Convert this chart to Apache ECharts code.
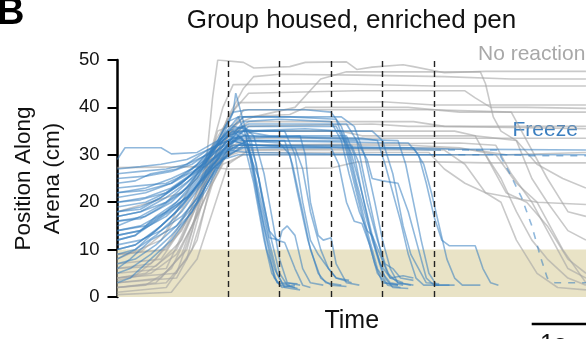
<!DOCTYPE html>
<html>
<head>
<meta charset="utf-8">
<script src="https://cdn.jsdelivr.net/npm/echarts@6/dist/echarts.min.js"></script>
<style>html,body{margin:0;padding:0;background:#fff}#c{width:586px;height:339px}</style>
</head>
<body>
<div id="c"></div>
<script>
// ---- data ----
const title = 'Group housed, enriched pen';
const yTicks = [0, 10, 20, 30, 40, 50];
const stimTimes = [0, 1, 2, 3, 4];
const escapeZone = [0, 10];
const timeRange = [-2.146, 6.951];

// grey: no reaction
const greyTraces = [
 [[-2.15,2],[-1.2,3],[-0.8,8],[-0.5,20],[-0.3,42],[-0.2,50],[0.3,49.5],[0.5,48.3],[1.2,48.6],[1.5,49.5],[2.3,49.6],[2.5,48],[2.8,48.5],[3.4,49],[3.6,48.6],[4.2,47.3],[5.0,47.6],[6.95,47.6]],
 [[-2.15,3],[-1.3,4],[-0.9,9],[-0.6,18],[-0.3,30],[0,38],[0.3,44],[0.5,46.5],[1,47],[2.5,46.8],[4.2,46.5],[5.5,46],[6.95,46]],
 [[-2.15,5],[-1.2,6],[-0.6,20],[-0.2,35],[0.5,38],[1.3,40],[1.8,46],[2.3,47.5],[4.0,47.5],[4.9,47.5],[5.0,45],[5.15,38],[5.3,35],[5.6,33],[5.9,25],[6.2,20],[6.6,14],[6.95,12]],
 [[-2.15,4],[-1.0,5],[-0.7,14],[-0.4,28],[-0.1,40],[0.1,44.8],[2.0,45],[4.0,44.5],[5.0,44.5],[6.95,44.5]],
 [[-2.15,2],[-1.4,3],[-0.8,10],[-0.4,25],[0,38],[0.4,43],[2.5,43.5],[4.6,43.5],[4.8,42],[5.1,40],[5.8,40],[6.95,39.8]],
 [[-2.15,7],[-1.3,8],[-0.8,16],[-0.3,32],[0.2,41],[3,41.2],[4,40.5],[6.95,40.5]],
 [[-2.15,3],[-1.0,4],[-0.6,12],[-0.2,30],[0.3,39.5],[4,39.5],[5.5,39],[5.8,33],[6.2,25],[6.6,18],[6.95,17]],
 [[-2.15,6],[-1.5,7],[-0.9,14],[-0.4,26],[0,34],[0.4,37],[3.6,37],[4.2,36],[6.95,35.5]],
 [[-2.15,1],[-1.2,2],[-0.7,10],[-0.3,24],[0.1,33],[0.5,35],[4.4,35],[4.8,34],[5.1,28],[5.4,22],[5.8,20],[6.2,15],[6.6,8],[6.95,5]],
 [[-2.15,4],[-1.6,5],[-1.0,10],[-0.5,22],[-0.1,31],[0.4,33.5],[6.95,33.5]],
 [[-2.15,9],[-1.2,10],[-0.7,18],[-0.3,27],[0,31],[0.5,32],[3.5,32],[4.5,31.5],[5.2,30],[5.6,24],[6.0,20],[6.5,10],[6.95,3]],
 [[-2.15,8],[-1.3,12],[-0.8,20],[-0.3,28],[0.2,31],[4.2,31],[4.6,28],[5.0,22],[5.3,20],[5.6,12],[6.0,5],[6.4,2],[6.95,1.5]],
 [[-2.15,27.3],[-0.5,27.5],[0,27],[2.0,27.2],[2.5,28.5],[4,28.5],[5,28.3],[6.95,28.3]],
 [[-2.15,6],[-1.4,6.5],[-0.9,12],[-0.5,22],[-0.2,29],[0.2,30.5],[3.9,30.5],[4.2,27],[4.6,24],[5.0,22],[5.5,21],[6.0,20],[6.95,19.5]],
 [[-2.15,2],[-1.6,2.5],[-1.1,6],[-0.7,15],[-0.4,22],[-0.1,28],[0.3,30],[5.0,30],[5.3,25],[5.6,18],[5.9,12],[6.2,8],[6.6,4],[6.95,2.5]],
 [[-2.15,18],[-1.5,20],[-0.9,22],[-0.5,26],[-0.2,32],[0.3,36],[2.8,36.5],[3.5,36],[5,36],[6.95,36]],
 [[-2.15,4],[-1.8,4.5],[-1.4,8],[-1.0,14],[-0.5,24],[-0.1,33],[0.3,38],[1.2,38.5],[1.5,40],[3.5,40],[4.5,39],[6.95,39]],
 [[-2.15,3.5],[-1.5,5],[-1.0,9],[-0.6,17],[-0.2,27],[0.1,32],[4.5,32.5],[5.2,32],[5.5,26],[5.9,20],[6.3,12],[6.6,6],[6.95,4]],
 [[-2.15,9],[-1.7,9.5],[-1.2,14],[-0.8,22],[-0.4,30],[0,35],[2.2,35],[2.6,34],[4.8,34],[5.6,33],[6.0,28],[6.5,25],[6.95,23]],
 [[-2.15,0.5],[-1.1,1],[-0.6,8],[-0.3,18],[0,28],[0.4,31],[4.0,31.5],[4.8,31],[5.4,30],[6.95,30.5]]
];

// blue: escape
const escapeTraces = [
 [[-2.15,29],[-2.0,31.5],[-1.3,31.5],[-1.1,30.2],[-0.6,30.5],[-0.2,33],[0.1,35],[0.3,33],[0.5,24],[0.7,12],[0.85,5],[1.0,2.5],[1.3,2]],
 [[-2.15,18],[-1.7,19],[-1.3,21],[-0.9,24],[-0.5,28],[-0.2,33],[0.0,37],[0.2,38],[0.35,34],[0.55,22],[0.75,10],[0.95,3],[1.2,2.5]],
 [[-2.15,12],[-1.8,13],[-1.4,17],[-1.0,20],[-0.6,25],[-0.3,31],[0.0,35],[0.3,36],[0.45,33],[0.65,22],[0.8,14],[0.95,12],[1.1,11.5],[1.3,6],[1.45,2.5],[1.6,2]],
 [[-2.15,22],[-1.6,23],[-1.1,25],[-0.7,27],[-0.3,30],[0.0,33],[0.25,34],[0.45,30],[0.6,20],[0.75,12],[0.9,4],[1.05,2],[1.3,2.5]],
 [[-2.15,8],[-1.8,10],[-1.4,14],[-1.1,17],[-0.7,22],[-0.4,27],[-0.1,33],[0.15,35],[0.35,34],[0.5,26],[0.7,15],[0.9,6],[1.05,3],[1.35,2.8]],
 [[-2.15,15],[-1.7,17],[-1.2,20],[-0.8,23],[-0.4,29],[-0.1,34],[0.1,39],[0.15,43],[0.3,37],[0.55,28],[0.7,18],[0.8,12.5],[1.0,12],[1.05,14],[1.15,15],[1.3,13],[1.45,6],[1.6,3],[1.85,2.5]],
 [[-2.15,24],[-1.8,24.5],[-1.5,26],[-1.0,27],[-0.6,29],[-0.2,31],[0.1,33],[0.35,32],[0.6,25],[0.8,14],[1.0,5],[1.15,2.5],[1.35,1.8]],
 [[-2.15,6],[-1.9,8],[-1.5,12],[-1.0,15],[-0.6,20],[-0.3,26],[0.0,31],[0.2,34],[0.4,32],[0.6,22],[0.75,14],[0.95,5],[1.1,2],[1.4,1.5]],
 [[-2.15,12],[-1.8,13],[-1.4,16],[-1.0,19],[-0.6,24],[-0.2,29],[0.1,34],[0.3,36],[0.5,34],[0.7,26],[0.85,17],[1.0,8],[1.15,3],[1.4,2.5]],
 [[-2.15,20],[-1.6,21],[-1.1,23],[-0.7,26],[-0.3,31],[0.0,34],[0.3,33],[1.0,32.5],[1.2,30],[1.35,22],[1.55,12],[1.75,5],[1.9,3],[2.2,2.5]],
 [[-2.15,16],[-1.7,16.5],[-1.3,19],[-0.9,22],[-0.5,27],[-0.2,32],[0.1,36],[0.5,35],[1.1,35],[1.3,30],[1.45,20],[1.6,12],[1.75,9],[1.95,6],[2.1,4],[2.35,3.5]],
 [[-2.15,26],[-1.7,26.5],[-1.2,27],[-0.8,28],[-0.4,31],[0.0,33],[0.5,32],[1.3,31.5],[1.45,27],[1.6,18],[1.8,10],[1.95,6],[2.1,4],[2.4,3]],
 [[-2.15,10],[-1.8,11],[-1.3,15],[-0.9,19],[-0.5,25],[-0.2,30],[0.1,33],[0.8,33],[1.1,33],[1.25,28],[1.45,18],[1.6,10],[1.8,4],[2.0,2.5],[2.3,2.2]],
 [[-2.15,14],[-1.6,15],[-1.2,18],[-0.8,21],[-0.4,26],[-0.1,31],[0.2,33.5],[1.4,34],[1.5,30],[1.6,20],[1.75,13],[1.85,12],[2.0,12.5],[2.1,7],[2.3,3],[2.55,2.5]],
 [[-2.15,21],[-1.6,22],[-1.1,24],[-0.6,28],[-0.2,33],[0.1,39],[0.4,39.5],[1.5,39.5],[2.0,39],[2.2,36],[2.4,30],[2.6,22],[2.8,12],[3.0,5],[3.15,3],[3.4,2.5]],
 [[-2.15,17],[-1.7,18],[-1.2,20],[-0.8,24],[-0.4,29],[-0.1,34],[0.2,38],[1.2,38],[2.1,37.5],[2.25,33],[2.45,24],[2.65,15],[2.85,7],[3.0,3],[3.3,2.5]],
 [[-2.15,13],[-1.7,14],[-1.3,17],[-0.8,21],[-0.4,26],[-0.1,31],[0.2,35],[1.5,35.5],[2.2,35],[2.35,31],[2.5,24],[2.7,16],[2.9,9],[3.05,4],[3.2,2],[3.5,1.8]],
 [[-2.15,25],[-1.6,25.5],[-1.1,26.5],[-0.7,28],[-0.3,31],[0.0,34],[0.3,35],[0.8,34],[2.3,34],[2.45,30],[2.6,22],[2.8,13],[2.95,7],[3.15,4],[3.4,4.5],[3.6,4]],
 [[-2.15,9],[-1.8,10],[-1.4,13],[-0.9,18],[-0.5,24],[-0.2,29],[0.1,33],[0.4,36],[2.1,36],[2.3,32],[2.5,23],[2.7,14],[2.9,6],[3.1,2.5],[3.35,2]],
 [[-2.15,19],[-1.6,20],[-1.2,22],[-0.8,25],[-0.4,29],[0.0,33],[0.3,37],[1.0,37.5],[2.0,37],[2.2,33],[2.35,26],[2.55,18],[2.7,14],[2.8,13],[2.95,9],[3.1,5],[3.3,3],[3.55,2.5]],
 [[-2.15,5],[-1.9,6],[-1.5,9],[-1.1,13],[-0.7,18],[-0.4,23],[-0.1,29],[0.2,32],[2.4,32],[2.55,28],[2.7,20],[2.9,12],[3.05,7],[3.2,6],[3.35,4],[3.6,3.5]],
 [[-2.15,23],[-1.7,23.5],[-1.2,24],[-0.8,26],[-0.4,30],[0.0,35],[0.3,38],[2.2,38],[2.45,36],[2.65,30],[2.85,20],[3.0,12],[3.15,6],[3.3,3],[3.6,2.5]],
 [[-2.15,11],[-1.7,12],[-1.3,14],[-0.9,17],[-0.5,22],[-0.2,28],[0.1,31.5],[2.0,31.5],[2.15,28],[2.3,20],[2.45,16],[2.6,15.5],[2.75,11],[2.9,5],[3.05,3],[3.3,2.5]],
 [[-2.15,18],[-1.7,18.5],[-1.3,21],[-0.9,24],[-0.5,28],[-0.2,32],[0.1,35],[0.4,36.5],[2.3,36.5],[2.5,33],[2.65,25],[2.85,15],[3.0,8],[3.15,4],[3.4,3]],
 [[-2.15,27],[-1.7,27.5],[-1.3,28],[-0.8,29],[-0.4,31],[0.0,33],[0.3,34],[2.6,33.5],[2.9,33],[3.05,28],[3.2,22],[3.35,16],[3.5,9],[3.65,4],[3.8,2.5],[4.1,2.5]],
 [[-2.15,16],[-1.6,17],[-1.1,20],[-0.7,24],[-0.3,29],[0.0,33],[0.3,35],[2.8,35],[3.0,33],[3.2,26],[3.4,15],[3.55,9],[3.7,6],[3.85,3],[4.1,2.8]],
 [[-2.15,7],[-1.8,8],[-1.4,11],[-1.0,15],[-0.6,21],[-0.3,27],[0.0,31],[0.4,33],[2.5,33],[2.7,29],[2.8,25],[3.0,24.5],[3.3,24],[3.5,18],[3.7,10],[3.85,4],[4.0,2.5],[4.3,2.5]],
 [[-2.15,20],[-1.7,20.5],[-1.2,22],[-0.8,25],[-0.4,28],[0.0,32],[0.3,34],[3.3,33],[3.45,28],[3.6,20],[3.75,12],[3.9,5],[4.05,2.5],[4.4,2.5]],
 [[-2.15,14],[-1.7,15],[-1.2,18],[-0.8,22],[-0.4,27],[0.0,31],[0.4,33],[3.5,32.5],[3.7,30],[3.85,24],[4.0,17],[4.15,12],[4.3,10.8],[4.8,10.8],[4.95,6],[5.1,3],[5.25,2.5]],
 [[-2.15,3],[-1.9,4],[-1.5,8],[-1.1,12],[-0.7,18],[-0.4,24],[-0.1,29],[0.3,32],[3.6,31.5],[3.8,28],[3.95,22],[4.1,15],[4.25,8],[4.4,4],[4.55,2.5],[4.9,2.5]]
];

// blue: freeze (solid part)
const freezeTraces = [
 [[-2.15,17],[-1.7,18],[-1.2,21],[-0.7,25],[-0.3,29],[0.0,31],[0.4,30.5],[3.0,30],[4.5,30],[6.95,30]],
 [[-2.15,22],[-1.6,22.5],[-1.1,24],[-0.6,27],[-0.2,30],[0.1,32],[0.5,32],[2.5,31.5],[3.5,31.5],[4.3,31.2],[6.95,31]],
 [[-2.15,10],[-1.8,11],[-1.4,14],[-1.0,18],[-0.6,23],[-0.3,27],[0.0,30],[0.3,31.5],[2.0,31.5],[3.5,31.2],[4.0,31]],
 [[-2.15,13],[-1.7,14],[-1.2,17],[-0.8,21],[-0.4,26],[-0.1,29],[0.2,30],[3.2,30],[4.2,30]]
];
// blue dashed continuations (tracking gaps)
const dashedTraces = [
 [[4.0,31],[5.25,31],[5.3,29.5],[5.45,26.5],[5.7,21],[5.9,15],[6.06,8.7],[6.2,4],[6.35,3],[6.95,3]],
 [[4.2,30],[5.5,30],[5.9,29.8],[6.95,29.8]]
];

// ---- chart ----
const chart = echarts.init(document.getElementById('c'), null, {renderer: 'canvas'});
const GREY = 'rgba(165,165,165,0.6)';
const BLUE = 'rgba(52,126,192,0.55)';
const FONT = 'Liberation Sans';
const series = [];
series.push({
  type: 'line', data: [], z: 0, silent: true,
  markArea: { silent: true, itemStyle: { color: '#e9e3c6' },
    data: [[{ yAxis: escapeZone[0] }, { yAxis: escapeZone[1] }]] }
});
greyTraces.forEach(d => series.push({ type: 'line', data: d, showSymbol: false, silent: true, z: 2,
  lineStyle: { color: GREY, width: 1.6 } }));
freezeTraces.forEach(d => series.push({ type: 'line', data: d, showSymbol: false, silent: true, z: 3,
  lineStyle: { color: BLUE, width: 1.6 } }));
dashedTraces.forEach(d => series.push({ type: 'line', data: d, showSymbol: false, silent: true, z: 3,
  lineStyle: { color: BLUE, width: 1.6, type: [7, 7] } }));
escapeTraces.forEach(d => series.push({ type: 'line', data: d, showSymbol: false, silent: true, z: 3,
  lineStyle: { color: BLUE, width: 1.6 } }));
series.push({
  type: 'line', data: [], z: 5, silent: true,
  markLine: { silent: true, symbol: ['none', 'none'], label: { show: false },
    lineStyle: { color: '#222', width: 1.4, type: [6, 4] },
    data: stimTimes.map(t => ({ xAxis: t })) }
});

chart.setOption({
  animation: false,
  backgroundColor: '#fff',
  grid: { left: 117.5, right: 0, top: 60, bottom: 36.5, containLabel: false },
  xAxis: {
    type: 'value', min: timeRange[0], max: timeRange[1],
    axisLine: { show: false, onZero: false }, axisTick: { show: false }, axisLabel: { show: false }, splitLine: { show: false },
    name: 'Time', nameLocation: 'middle', nameGap: 12,
    nameTextStyle: { fontFamily: FONT, fontSize: 25, color: '#111', verticalAlign: 'top' }
  },
  yAxis: {
    type: 'value', min: yTicks[0], max: yTicks[yTicks.length - 1], interval: 10,
    axisLine: { show: true, onZero: false, lineStyle: { color: '#000', width: 2.5 } },
    axisTick: { show: true, length: 10, lineStyle: { color: '#000', width: 2 } },
    axisLabel: { fontFamily: FONT, fontSize: 18.5, color: '#111', margin: 18 },
    splitLine: { show: false },
    name: 'Position Along\nArena (cm)', nameLocation: 'middle', nameRotate: 90, nameGap: 50,
    nameTextStyle: { fontFamily: FONT, fontSize: 22.5, lineHeight: 29, color: '#111', align: 'center' }
  },
  graphic: [
    { type: 'text', left: -3, top: -5, style: { text: 'B', fontFamily: FONT, fontWeight: 'bold', fontSize: 38, fill: '#000' } },
    { type: 'text', x: 351.5, y: 21.3, style: { text: title, fontFamily: FONT, fontSize: 26, fill: '#111', align: 'center', verticalAlign: 'middle' } },
    { type: 'text', x: 478, y: 54.7, style: { text: 'No reaction', fontFamily: FONT, fontSize: 21, fill: '#a8a8a8', align: 'left', verticalAlign: 'middle' } },
    { type: 'text', x: 512.5, y: 130.7, style: { text: 'Freeze', fontFamily: FONT, fontSize: 21, fill: '#3b7fc0', align: 'left', verticalAlign: 'middle' } },
    { type: 'text', x: 491.5, y: 286.7, style: { text: 'Escape', fontFamily: FONT, fontSize: 21, fill: '#3b7fc0', align: 'left', verticalAlign: 'middle' } },
    { type: 'line', shape: { x1: 531.7, y1: 324, x2: 592, y2: 324 }, style: { stroke: '#000', lineWidth: 2.5 } },
    { type: 'text', x: 540, y: 345.5, style: { text: '1s', fontFamily: FONT, fontSize: 25, fill: '#111', align: 'left', verticalAlign: 'middle' } }
  ],
  series: series
});
</script>
</body>
</html>
